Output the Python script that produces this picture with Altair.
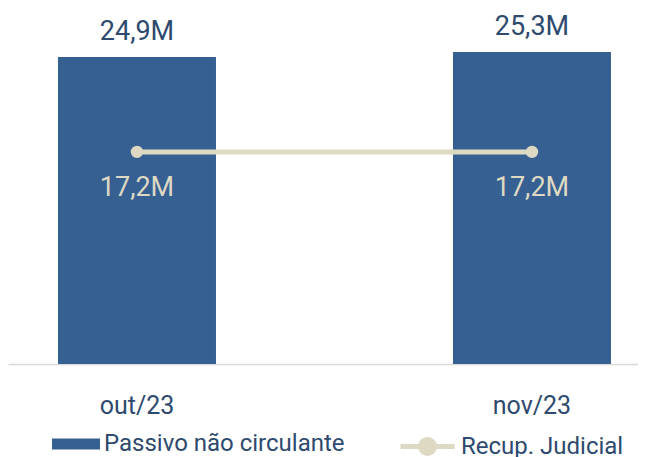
import altair as alt
import pandas as pd

months = ["out/23", "nov/23"]
passivo = [24.9, 25.3]
recup = [17.2, 17.2]
bar_name = "Passivo não circulante"
line_name = "Recup. Judicial"

BLUE = "#376092"
TAN = "#DDD9C3"
DARK = "#2E4A6E"
FONT = "Roboto"


def fmt(v):
    return f"{v:.1f}".replace(".", ",") + "M"


df = pd.DataFrame({
    "mes": months,
    "passivo": passivo,
    "recup": recup,
    "passivo_lbl": [fmt(v) for v in passivo],
    "recup_lbl": [fmt(v) for v in recup],
    "s_bar": [bar_name] * len(months),
    "s_line": [line_name] * len(months),
})

x = alt.X(
    "mes:N", sort=months, title=None,
    scale=alt.Scale(paddingInner=0.6, paddingOuter=0.0975, align=0.649),
    axis=alt.Axis(labelAngle=0, ticks=False, labelPadding=29, labelFont=FONT,
                  labelFontSize=25, labelColor=DARK, domainColor="#D9D9D9",
                  domainWidth=1.5, grid=False),
)
y_scale = alt.Scale(domain=[0, 28.87], nice=False, zero=True)

base = alt.Chart(df)

bars = base.mark_bar().encode(
    x=x,
    y=alt.Y("passivo:Q", scale=y_scale, axis=None),
    fill=alt.Fill(
        "s_bar:N",
        scale=alt.Scale(domain=[bar_name], range=[BLUE]),
        legend=alt.Legend(
            title=None, orient="none", legendX=44, legendY=412,
            symbolType="M-1,-0.229H1V0.229H-1Z", symbolSize=2304,
            symbolStrokeWidth=0, labelFont=FONT, labelFontSize=24,
            labelColor=DARK, labelOffset=4, labelLimit=400,
        ),
    ),
)

bar_labels = base.mark_text(
    font=FONT, fontSize=27, color=DARK, baseline="alphabetic", dy=-17
).encode(x=x, y=alt.Y("passivo:Q", scale=y_scale, axis=None), text="passivo_lbl:N")

line_sym = "M-1,0H1M0.26,0A0.26,0.26,0,1,1,-0.26,0A0.26,0.26,0,1,1,0.26,0"
line = base.mark_line(strokeWidth=5).encode(
    x=x,
    y=alt.Y("recup:Q", scale=y_scale, axis=None),
    stroke=alt.Stroke(
        "s_line:N",
        scale=alt.Scale(domain=[line_name], range=[TAN]),
        legend=alt.Legend(
            title=None, orient="none", legendX=390, legendY=409,
            symbolType=line_sym, symbolSize=2916, symbolStrokeWidth=5,
            symbolStrokeColor=TAN, symbolFillColor=TAN, labelFont=FONT,
            labelFontSize=24, labelColor=DARK, labelOffset=4, labelLimit=400,
        ),
    ),
)

points = base.mark_circle(size=154, color=TAN, opacity=1).encode(
    x=x, y=alt.Y("recup:Q", scale=y_scale, axis=None)
)

line_labels = base.mark_text(
    font=FONT, fontSize=27, color=TAN, baseline="middle", dy=36
).encode(x=x, y=alt.Y("recup:Q", scale=y_scale, axis=None), text="recup_lbl:N")

chart = alt.layer(bars, bar_labels, line, points, line_labels).properties(
    width=630, height=356,
    padding={"left": 0, "top": 0, "right": 0, "bottom": 93},
    autosize=alt.AutoSizeParams(type="none"),
).configure_view(stroke=None)

chart.save("out.html", embed_options={"renderer": "svg", "actions": False})
